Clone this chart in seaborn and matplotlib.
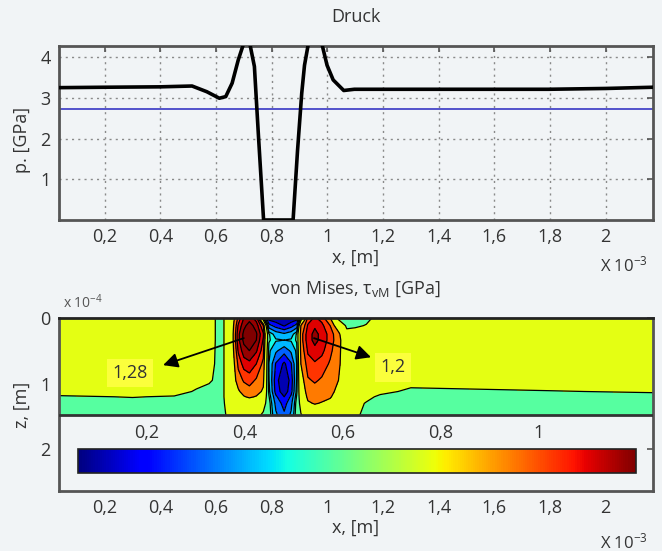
import numpy as np
import pandas as pd
import matplotlib
matplotlib.use("Agg")
import matplotlib.pyplot as plt
import seaborn as sns
from matplotlib.colors import Normalize
from matplotlib.cm import ScalarMappable

# ---------------- data ----------------
# pressure curve (x in 1e-3 m, p in GPa)
press_x = [0.036, 0.2, 0.4, 0.514, 0.567, 0.612, 0.635, 0.658, 0.68, 0.705, 0.718,
           0.738, 0.752, 0.771, 0.877, 0.893, 0.908, 0.918, 0.935, 0.976, 0.999,
           1.021, 1.059, 1.097, 1.34, 1.794, 2.0, 2.17]
press_p = [3.25, 3.26, 3.27, 3.29, 3.15, 2.99, 3.03, 3.36, 3.93, 4.45, 4.45,
           3.77, 2.13, 0.0, 0.0, 1.71, 3.11, 3.80, 4.45, 4.45, 3.80,
           3.44, 3.18, 3.21, 3.21, 3.21, 3.23, 3.26]
ref_pressure = 2.72

x_ticks = [0.2, 0.4, 0.6, 0.8, 1.0, 1.2, 1.4, 1.6, 1.8, 2.0]
x_ticklabels = ["0,2", "0,4", "0,6", "0,8", "1", "1,2", "1,4", "1,6", "1,8", "2"]
p_ticks = [1, 2, 3, 4]
z_ticks = [0, 1, 2]
cbar_ticks = [0.2, 0.4, 0.6, 0.8, 1.0]
cbar_ticklabels = ["0,2", "0,4", "0,6", "0,8", "1"]

# von Mises field (x in 1e-3 m, z in 1e-4 m, GPa)
field_x = [0.036, 0.30, 0.45, 0.53, 0.575, 0.615, 0.65, 0.68, 0.70, 0.72, 0.745,
           0.77, 0.79, 0.815, 0.845, 0.87, 0.89, 0.905, 0.93, 0.955, 0.98, 1.01,
           1.04, 1.07, 1.10, 1.14, 1.19, 1.30, 1.80, 2.17]
field_z = [0.0, 0.12, 0.25, 0.34, 0.5, 0.7, 0.95, 1.12, 1.2, 1.3, 1.48]
field_cols = [
    [0.78, 0.78, 0.78, 0.78, 0.78, 0.78, 0.78, 0.76, 0.62, 0.57, 0.57],
    [0.78, 0.78, 0.78, 0.78, 0.78, 0.78, 0.78, 0.77, 0.66, 0.57, 0.57],
    [0.78, 0.78, 0.78, 0.78, 0.78, 0.78, 0.78, 0.76, 0.63, 0.57, 0.57],
    [0.78, 0.78, 0.78, 0.78, 0.78, 0.77, 0.75, 0.62, 0.57, 0.57, 0.57],
    [0.74, 0.74, 0.74, 0.74, 0.73, 0.72, 0.68, 0.58, 0.57, 0.57, 0.57],
    [0.58, 0.58, 0.58, 0.58, 0.58, 0.58, 0.58, 0.58, 0.58, 0.58, 0.58],
    [0.76, 0.76, 0.76, 0.76, 0.76, 0.76, 0.76, 0.76, 0.76, 0.74, 0.70],
    [1.02, 1.08, 1.12, 1.12, 1.08, 1.02, 0.96, 0.88, 0.82, 0.76, 0.74],
    [1.14, 1.19, 1.23, 1.23, 1.18, 1.10, 1.01, 0.95, 0.89, 0.78, 0.74],
    [1.18, 1.24, 1.28, 1.27, 1.21, 1.12, 1.03, 0.97, 0.92, 0.80, 0.73],
    [1.10, 1.18, 1.22, 1.21, 1.15, 1.07, 0.99, 0.95, 0.89, 0.78, 0.70],
    [0.50, 1.00, 1.08, 1.06, 1.03, 0.98, 0.93, 0.88, 0.80, 0.72, 0.62],
    [0.10, 0.30, 0.52, 0.52, 0.48, 0.46, 0.47, 0.49, 0.52, 0.55, 0.56],
    [0.08, 0.22, 0.42, 0.47, 0.38, 0.25, 0.20, 0.22, 0.28, 0.33, 0.38],
    [0.06, 0.15, 0.38, 0.46, 0.30, 0.14, 0.07, 0.10, 0.16, 0.22, 0.28],
    [0.08, 0.22, 0.42, 0.47, 0.38, 0.25, 0.20, 0.22, 0.28, 0.33, 0.38],
    [0.10, 0.30, 0.52, 0.52, 0.48, 0.46, 0.47, 0.49, 0.52, 0.55, 0.56],
    [0.50, 0.90, 0.96, 0.96, 0.94, 0.90, 0.84, 0.80, 0.75, 0.70, 0.64],
    [1.02, 1.08, 1.11, 1.11, 1.08, 1.04, 0.99, 0.95, 0.93, 0.88, 0.72],
    [1.08, 1.13, 1.16, 1.16, 1.12, 1.06, 1.01, 0.97, 0.95, 0.91, 0.76],
    [1.04, 1.09, 1.12, 1.12, 1.09, 1.04, 0.99, 0.96, 0.94, 0.89, 0.76],
    [0.90, 1.00, 1.04, 1.04, 1.02, 0.99, 0.96, 0.94, 0.92, 0.84, 0.74],
    [0.60, 0.80, 0.94, 0.95, 0.94, 0.93, 0.90, 0.86, 0.80, 0.74, 0.72],
    [0.58, 0.62, 0.70, 0.77, 0.78, 0.78, 0.78, 0.78, 0.77, 0.74, 0.70],
    [0.58, 0.62, 0.74, 0.78, 0.78, 0.78, 0.78, 0.78, 0.77, 0.74, 0.70],
    [0.60, 0.66, 0.77, 0.78, 0.78, 0.78, 0.78, 0.76, 0.72, 0.63, 0.58],
    [0.72, 0.75, 0.78, 0.78, 0.78, 0.78, 0.77, 0.72, 0.60, 0.57, 0.57],
    [0.78, 0.78, 0.78, 0.78, 0.78, 0.78, 0.75, 0.60, 0.57, 0.57, 0.57],
    [0.78, 0.78, 0.78, 0.78, 0.78, 0.78, 0.78, 0.64, 0.58, 0.57, 0.57],
    [0.78, 0.78, 0.78, 0.78, 0.78, 0.78, 0.78, 0.67, 0.58, 0.57, 0.57],
]
vm_levels = [0.06, 0.16, 0.26, 0.36, 0.46, 0.51, 0.65, 0.9, 1.0, 1.07, 1.14, 1.21, 1.3]
vm_min, vm_max = 0.06, 1.2

ann_left = dict(label="1,28", text=(0.29, 0.84), head=(0.41, 0.72), tail=(0.70, 0.31))
ann_right = dict(label="1,2", text=(1.235, 0.75), head=(1.157, 0.60), tail=(0.952, 0.31))

# ---------------- style ----------------
sns.set_theme(style="white")
plt.rcParams["font.family"] = ["Open Sans", "DejaVu Sans"]
plt.rcParams["mathtext.default"] = "regular"
BG = "#f1f4f6"
TXT = "#333333"
SP = "#555555"
FS = 13

W, H = 662, 551
fig = plt.figure(figsize=(W / 100, H / 100), dpi=100)
fig.patch.set_facecolor(BG)


def fx(px):
    return px / W


def fy(py):
    return 1 - py / H


ax1 = fig.add_axes([fx(59), fy(220), fx(653) - fx(59), fy(45.7) - fy(220)])
ax2 = fig.add_axes([fx(59), fy(491), fx(653) - fx(59), fy(317.7) - fy(491)])
for ax in (ax1, ax2):
    ax.set_facecolor(BG)
    for s in ax.spines.values():
        s.set_color(SP)
        s.set_linewidth(2)

# ---- top: pressure ----
df = pd.DataFrame({"x": press_x, "p": press_p})
ax1.axhline(ref_pressure, color="#4646c8", lw=1.3, zorder=2)
sns.lineplot(data=df, x="x", y="p", ax=ax1, color="black", lw=2.6,
             sort=False, estimator=None, zorder=3)
ax1.set_xlim(0.036, 2.17)
ax1.set_ylim(0, 4.28)
ax1.set_xticks(x_ticks)
ax1.set_xticklabels(x_ticklabels)
ax1.set_yticks(p_ticks)
ax1.set_yticklabels([str(t) for t in p_ticks])
ax1.grid(True, linestyle=(0, (1.5, 3)), color="#8a8a8a", lw=1.0)
ax1.tick_params(direction="in", length=4, width=1.2, colors=SP, labelcolor=TXT,
                labelsize=FS, pad=6, top=True, right=True)
ax1.set_xlabel("")
ax1.set_ylabel("")

# ---- bottom: von Mises ----
X, Z = np.meshgrid(field_x, field_z)
V = np.array(field_cols).T
norm = Normalize(vm_min, vm_max)
ax2.contourf(X, Z, V, levels=vm_levels, cmap="jet", norm=norm, zorder=1)
ax2.contour(X, Z, V, levels=vm_levels[1:-1], colors="black", linewidths=0.9, zorder=2)
ax2.axhline(field_z[-1], color="#333333", lw=2, zorder=3)
ax2.set_xlim(0.036, 2.17)
ax2.set_ylim(2.63, 0)
ax2.set_xticks(x_ticks)
ax2.set_xticklabels(x_ticklabels)
ax2.set_yticks(z_ticks)
ax2.set_yticklabels([str(t) for t in z_ticks])
ax2.tick_params(direction="in", length=4, width=1.2, colors=SP, labelcolor=TXT,
                labelsize=FS, pad=6, top=True, right=True)
ax2.spines["top"].set_color("#222222")

for a in (ann_left, ann_right):
    ax2.annotate("", xy=a["head"], xytext=a["tail"],
                 arrowprops=dict(arrowstyle="-|>", color="black", lw=1.3,
                                 mutation_scale=22, shrinkA=0, shrinkB=0), zorder=5)
    ax2.text(*a["text"], a["label"], ha="center", va="center", fontsize=FS, color=TXT,
             bbox=dict(boxstyle="square,pad=0.3", fc="#fbff3c", ec="none"), zorder=6)

cax = ax2.inset_axes([0.032, 0.103, 0.94, 0.137])
cb = fig.colorbar(ScalarMappable(norm=norm, cmap="jet"), cax=cax,
                  orientation="horizontal", ticks=cbar_ticks)
cb.set_ticklabels(cbar_ticklabels)
cb.outline.set_edgecolor("#222222")
cb.outline.set_linewidth(1.2)
cax.tick_params(axis="x", direction="in", length=4, width=1.5, colors="#222222",
                labelcolor=TXT, labelsize=FS, top=True, bottom=True,
                labeltop=True, labelbottom=False, pad=5)

# ---- texts ----
fig.text(fx(356), fy(17), "Druck", ha="center", va="center", fontsize=FS, color=TXT)
fig.text(fx(356), fy(258), "x, [m]", ha="center", va="center", fontsize=FS, color=TXT)
fig.text(fx(624), fy(265), "X 10$^{-3}$", ha="center", va="center", fontsize=FS - 1, color=TXT)
fig.text(fx(22), fy(140), "p. [GPa]", ha="center", va="center", rotation=90,
         fontsize=FS, color=TXT)
fig.text(fx(355), fy(289), "von Mises, $\\tau_{vM}$ [GPa]", ha="center", va="center",
         fontsize=FS, color=TXT)
fig.text(fx(83), fy(303), "x 10$^{-4}$", ha="center", va="center", fontsize=FS - 3,
         color="#555555")
fig.text(fx(356), fy(528), "x, [m]", ha="center", va="center", fontsize=FS, color=TXT)
fig.text(fx(624), fy(542), "X 10$^{-3}$", ha="center", va="center", fontsize=FS - 1, color=TXT)
fig.text(fx(22), fy(405), "z, [m]", ha="center", va="center", rotation=90,
         fontsize=FS, color=TXT)

fig.savefig("out.png", dpi=100, facecolor=BG)
